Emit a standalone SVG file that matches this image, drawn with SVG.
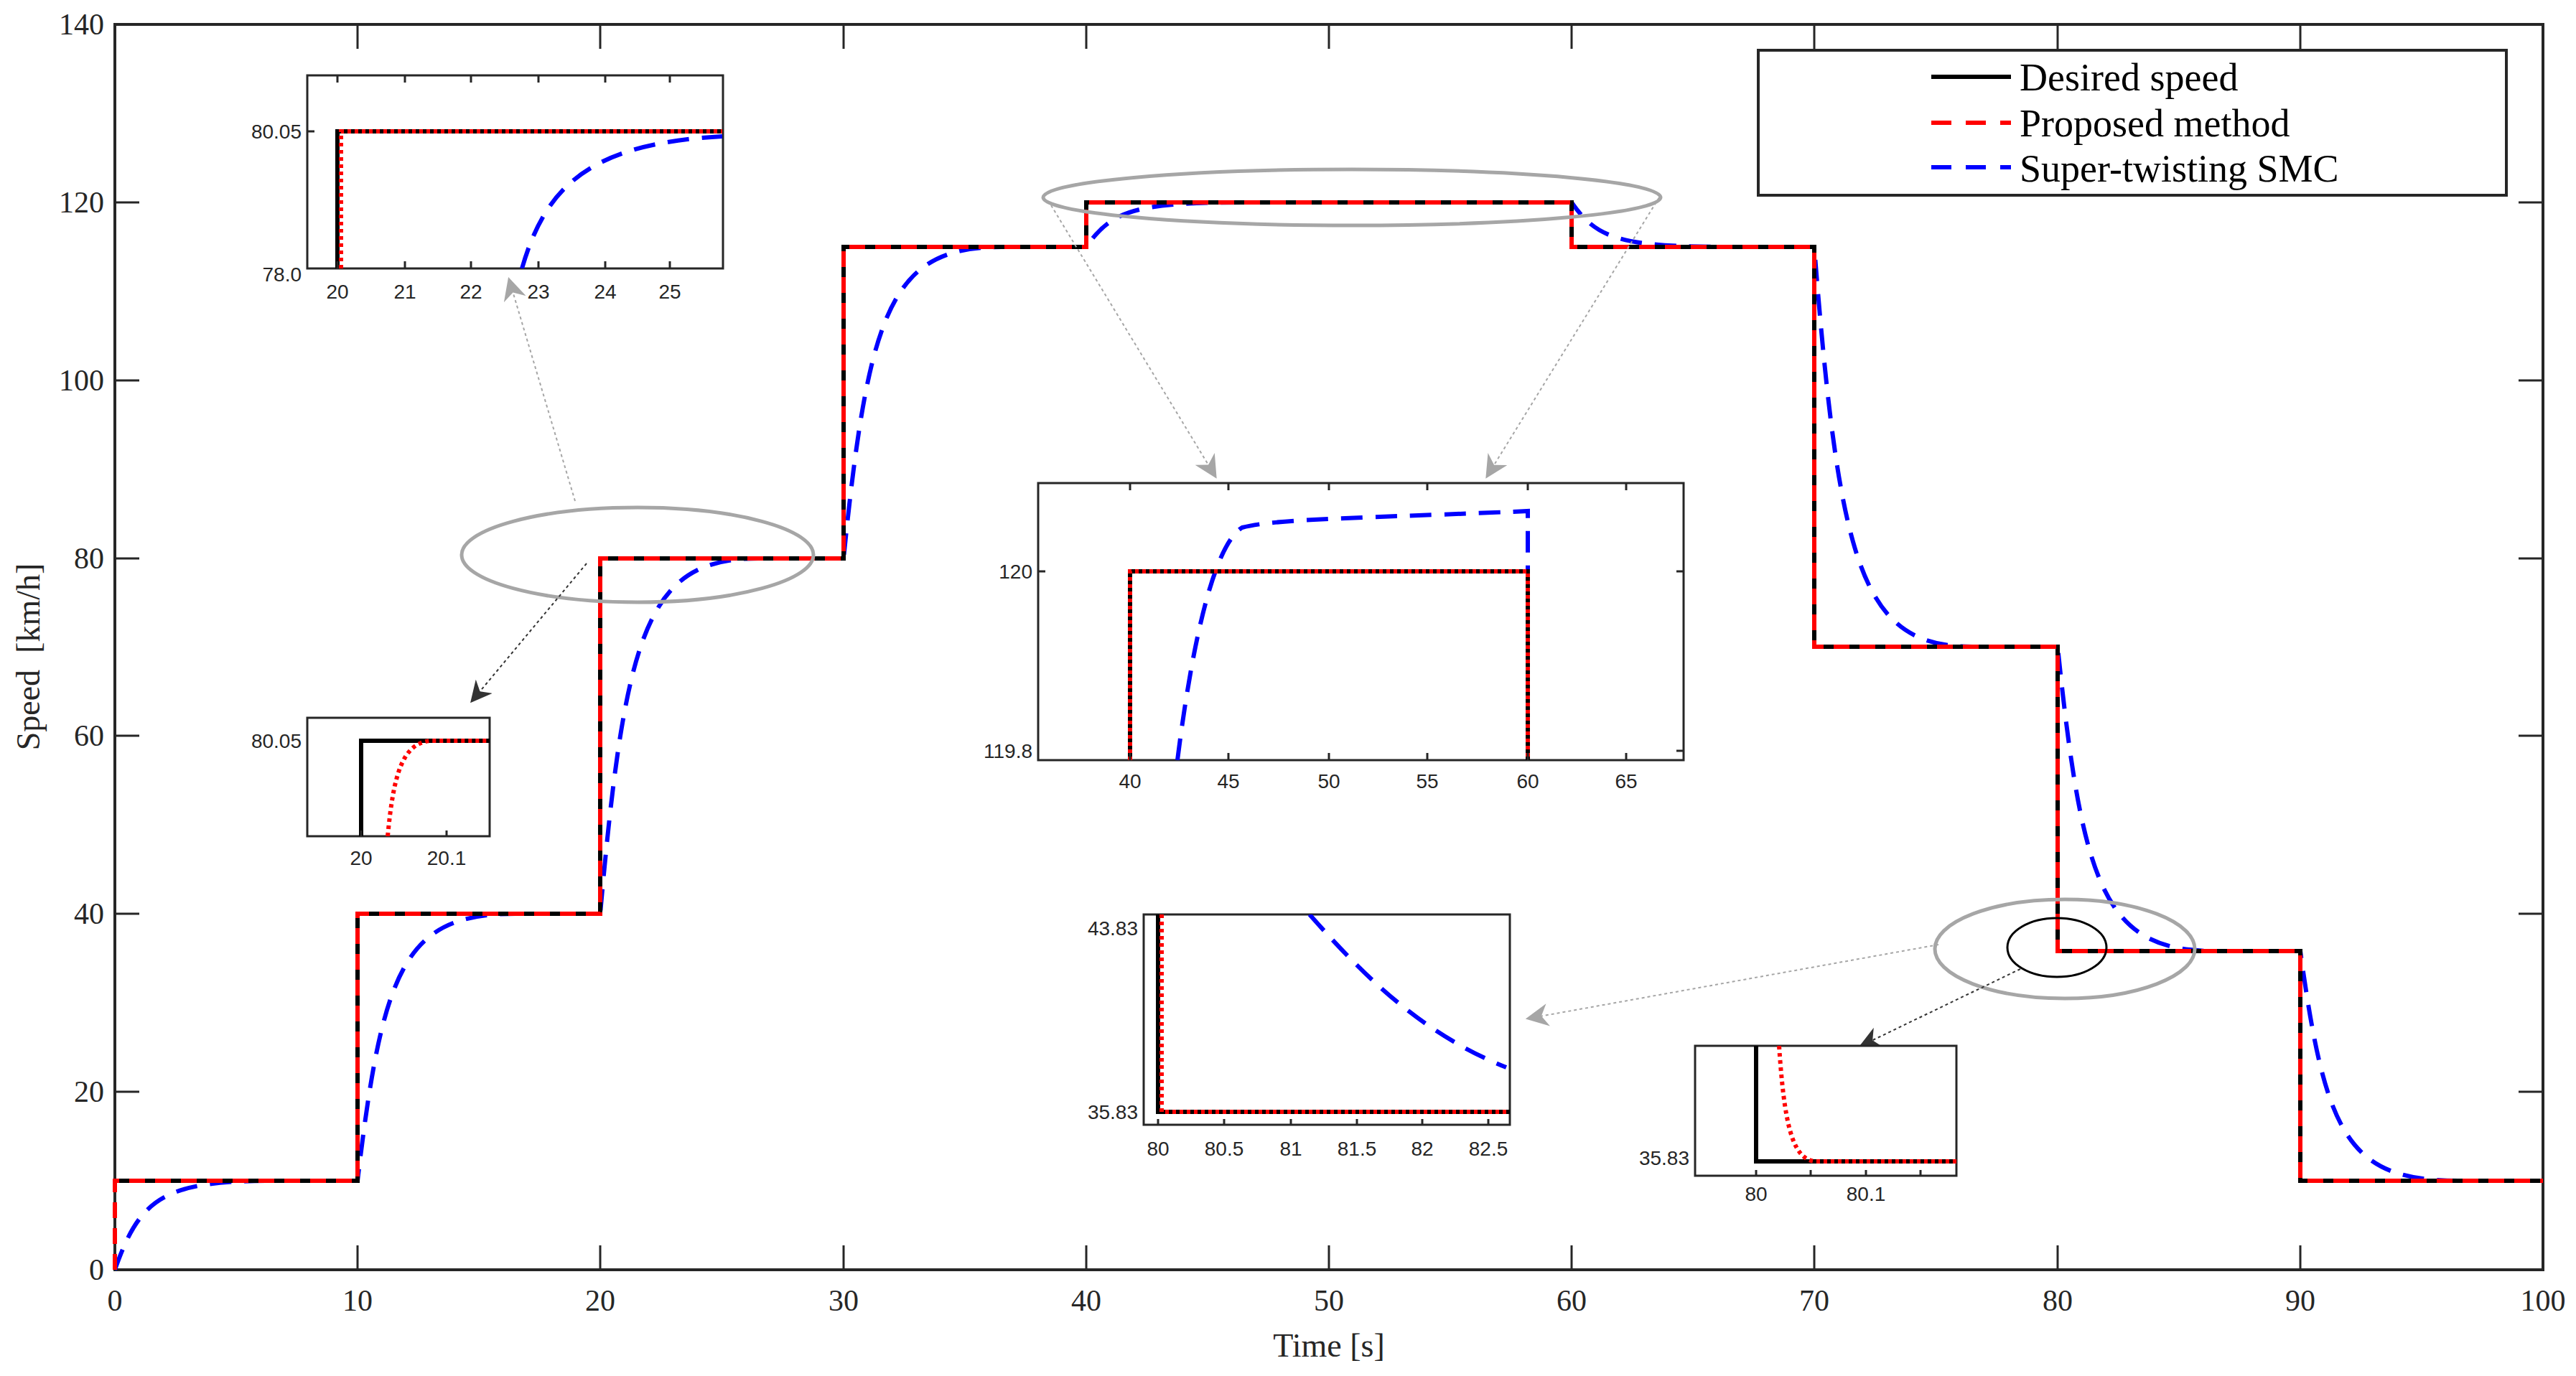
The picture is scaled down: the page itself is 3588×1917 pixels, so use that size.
<svg xmlns="http://www.w3.org/2000/svg" width="3588" height="1917" viewBox="0 0 3588 1917">
<style>
.ax{fill:none;stroke:#262626;stroke-width:4}
.tk{stroke:#262626;stroke-width:3}
.lab{font-family:"Liberation Serif","Times New Roman",serif;font-size:42px;fill:#262626}
.ilab{font-family:"Liberation Sans Narrow","Liberation Sans",Arial,sans-serif;font-size:28px;fill:#262626}
.des{fill:none;stroke:#000;stroke-width:6}
.red{fill:none;stroke:#ff0000;stroke-width:6;stroke-dasharray:22 14}
.blue{fill:none;stroke:#0000ff;stroke-width:6;stroke-dasharray:30 18}
.rdot{fill:none;stroke:#ff0000;stroke-width:6;stroke-dasharray:5 5}
.ibox{fill:#fff;stroke:#262626;stroke-width:3}
.ell{fill:none;stroke:#a6a6a6;stroke-width:5}
.gcon{fill:none;stroke:#a6a6a6;stroke-width:2;stroke-dasharray:4 4}
.kcon{fill:none;stroke:#333;stroke-width:2;stroke-dasharray:4 4}
</style>
<defs>
<marker id="ga" viewBox="0 0 20 20" refX="18" refY="10" markerWidth="32" markerHeight="32" markerUnits="userSpaceOnUse" orient="auto"><path d="M0,0 L20,10 L0,20 L6,10 Z" fill="#a6a6a6"/></marker>
<marker id="ka" viewBox="0 0 20 20" refX="18" refY="10" markerWidth="30" markerHeight="30" markerUnits="userSpaceOnUse" orient="auto"><path d="M0,0 L20,10 L0,20 L6,10 Z" fill="#333"/></marker>
<clipPath id="c1"><rect x="428" y="105" width="579" height="269"/></clipPath>
<clipPath id="c2"><rect x="428" y="1000" width="254" height="165"/></clipPath>
<clipPath id="c3"><rect x="1446" y="673" width="899" height="386"/></clipPath>
<clipPath id="c4"><rect x="1593" y="1274" width="510" height="293"/></clipPath>
<clipPath id="c5"><rect x="2361" y="1457" width="364" height="181"/></clipPath>
</defs>
<rect width="3588" height="1917" fill="#fff"/>
<g id="axes">
<rect class="ax" x="160" y="34" width="3382" height="1735"/>
<path class="tk" d="M498,1769v-34M836,1769v-34M1175,1769v-34M1513,1769v-34M1851,1769v-34M2189,1769v-34M2527,1769v-34M2866,1769v-34M3204,1769v-34M498,34v34M836,34v34M1175,34v34M1513,34v34M1851,34v34M2189,34v34M2527,34v34M2866,34v34M3204,34v34M160,1521h34M160,1273h34M160,1025h34M160,778h34M160,530h34M160,282h34M3542,1521h-34M3542,1273h-34M3542,1025h-34M3542,778h-34M3542,530h-34M3542,282h-34"/>
<g class="lab" text-anchor="end">
<text x="145" y="48">140</text><text x="145" y="296">120</text><text x="145" y="544">100</text><text x="145" y="792">80</text><text x="145" y="1039">60</text><text x="145" y="1287">40</text><text x="145" y="1535">20</text><text x="145" y="1783">0</text>
</g>
<g class="lab" text-anchor="middle">
<text x="160" y="1826">0</text><text x="498" y="1826">10</text><text x="836" y="1826">20</text><text x="1175" y="1826">30</text><text x="1513" y="1826">40</text><text x="1851" y="1826">50</text><text x="2189" y="1826">60</text><text x="2527" y="1826">70</text><text x="2866" y="1826">80</text><text x="3204" y="1826">90</text><text x="3542" y="1826">100</text>
<text x="1851" y="1890" font-size="46">Time [s]</text>
<text transform="translate(55,915) rotate(-90)" font-size="46" xml:space="preserve">Speed  [km/h]</text>
</g>
</g>
<g id="curves">
<path class="blue" d="M160,1769 C195,1670 226,1645 380,1645 L498,1645 C533,1347 564,1273 718,1273 L836,1273 C871,877 902,778 1056,778 L1175,778 C1210,431 1241,344 1395,344 L1513,344 C1548,294 1579,282 1733,282 L2189,282 C2224,332 2255,344 2409,344 L2527,344 C2562,790 2593,901 2747,901 L2866,901 C2901,1240 2932,1325 3086,1325 L3204,1325 C3239,1581 3270,1645 3424,1645 L3542,1645"/>
<path class="des" d="M160,1645 H498 V1273 H836 V778 H1175 V344 H1513 V282 H2189 V344 H2527 V901 H2866 V1325 H3204 V1645 H3542"/>
<path class="red" d="M160,1769 V1645 H498 V1273 H836 V778 H1175 V344 H1513 V282 H2189 V344 H2527 V901 H2866 V1325 H3204 V1645 H3542"/>
</g>
<g id="highlights">
<ellipse class="ell" cx="888" cy="773" rx="245" ry="66"/>
<ellipse class="ell" cx="1883" cy="275" rx="430" ry="39"/>
<ellipse class="ell" cx="2876" cy="1322" rx="181" ry="69"/>
<ellipse cx="2865" cy="1320" rx="69" ry="41" fill="none" stroke="#000" stroke-width="3"/>
</g>
<g id="connectors">
<path class="gcon" d="M801,698 L709,389" marker-end="url(#ga)"/>
<path class="kcon" d="M817,785 L657,977" marker-end="url(#ka)"/>
<path class="gcon" d="M1464,286 L1693,664" marker-end="url(#ga)"/>
<path class="gcon" d="M2311,275 L2071,664" marker-end="url(#ga)"/>
<path class="gcon" d="M2700,1316 L2128,1419" marker-end="url(#ga)"/>
<path class="kcon" d="M2814,1350 L2592,1457" marker-end="url(#ka)"/>
</g>
<g id="inset1">
<rect class="ibox" x="428" y="105" width="579" height="269"/>
<g clip-path="url(#c1)">
<path class="blue" d="M727,374 C760,260 820,200 1006,190"/>
<path class="des" d="M470,374 V183 H1006"/>
<path class="rdot" d="M475,374 V183 H1006"/>
</g>
<path class="tk" d="M470,374v-10M564,374v-10M656,374v-10M750,374v-10M843,374v-10M933,374v-10M470,105v10M564,105v10M656,105v10M750,105v10M843,105v10M933,105v10M428,183h10"/>
<g class="ilab" text-anchor="middle"><text x="470" y="416">20</text><text x="564" y="416">21</text><text x="656" y="416">22</text><text x="750" y="416">23</text><text x="843" y="416">24</text><text x="933" y="416">25</text></g>
<g class="ilab" text-anchor="end"><text x="420" y="193">80.05</text><text x="420" y="392">78.0</text></g>
</g>
<g id="inset2">
<rect class="ibox" x="428" y="1000" width="254" height="165"/>
<g clip-path="url(#c2)">
<path class="des" d="M503,1165 V1032 H682"/>
<path class="rdot" d="M540,1165 C548,1080 560,1035 600,1032 H682"/>
</g>
<path class="tk" d="M503,1165v-8M622,1165v-8"/>
<g class="ilab" text-anchor="middle"><text x="503" y="1205">20</text><text x="622" y="1205">20.1</text></g>
<text class="ilab" text-anchor="end" x="420" y="1042">80.05</text>
</g>
<g id="inset3">
<rect class="ibox" x="1446" y="673" width="899" height="386"/>
<g clip-path="url(#c3)">
<path class="blue" d="M1640,1059 C1660,900 1690,760 1730,735 C1780,722 1900,722 2128,712 V1059"/>
<path class="des" d="M1574,1059 V796 H2128 V1059"/>
<path class="rdot" d="M1574,1059 V796 H2128 V1059"/>
</g>
<path class="tk" d="M1574,1059v-10M1711,1059v-10M1851,1059v-10M1988,1059v-10M2128,1059v-10M2265,1059v-10M1574,673v10M1711,673v10M1851,673v10M1988,673v10M2128,673v10M2265,673v10M1446,796h10M2345,796h-10M2345,1046h-10"/>
<g class="ilab" text-anchor="middle"><text x="1574" y="1098">40</text><text x="1711" y="1098">45</text><text x="1851" y="1098">50</text><text x="1988" y="1098">55</text><text x="2128" y="1098">60</text><text x="2265" y="1098">65</text></g>
<g class="ilab" text-anchor="end"><text x="1438" y="806">120</text><text x="1438" y="1056">119.8</text></g>
</g>
<g id="inset4">
<rect class="ibox" x="1593" y="1274" width="510" height="293"/>
<g clip-path="url(#c4)">
<path class="blue" d="M1824,1274 C1900,1360 1980,1440 2098,1487"/>
<path class="des" d="M1613,1274 V1549 H2103"/>
<path class="rdot" d="M1618,1274 V1549 H2103"/>
</g>
<path class="tk" d="M1613,1567v-8M1705,1567v-8M1798,1567v-8M1890,1567v-8M1981,1567v-8M2073,1567v-8"/>
<g class="ilab" text-anchor="middle"><text x="1613" y="1610">80</text><text x="1705" y="1610">80.5</text><text x="1798" y="1610">81</text><text x="1890" y="1610">81.5</text><text x="1981" y="1610">82</text><text x="2073" y="1610">82.5</text></g>
<g class="ilab" text-anchor="end"><text x="1585" y="1303">43.83</text><text x="1585" y="1559">35.83</text></g>
</g>
<g id="inset5">
<rect class="ibox" x="2361" y="1457" width="364" height="181"/>
<g clip-path="url(#c5)">
<path class="des" d="M2446,1457 V1618 H2725"/>
<path class="rdot" d="M2478,1457 C2485,1560 2495,1615 2528,1618 H2725"/>
</g>
<path class="tk" d="M2446,1638v-8M2522,1638v-8M2599,1638v-8M2675,1638v-8"/>
<g class="ilab" text-anchor="middle"><text x="2446" y="1673">80</text><text x="2599" y="1673">80.1</text></g>
<text class="ilab" text-anchor="end" x="2353" y="1623">35.83</text>
</g>
<g id="legend">
<rect x="2449" y="70" width="1042" height="202" fill="#fff" stroke="#262626" stroke-width="4"/>
<path d="M2690,107 H2801" stroke="#000" stroke-width="6"/>
<path d="M2690,171 H2801" stroke="#ff0000" stroke-width="6" stroke-dasharray="28 20"/>
<path d="M2690,233 H2801" stroke="#0000ff" stroke-width="6" stroke-dasharray="28 20"/>
<g class="lab" style="font-size:54px;fill:#000">
<text x="2813" y="126">Desired speed</text>
<text x="2813" y="190">Proposed method</text>
<text x="2813" y="253">Super-twisting SMC</text>
</g>
</g>
</svg>
